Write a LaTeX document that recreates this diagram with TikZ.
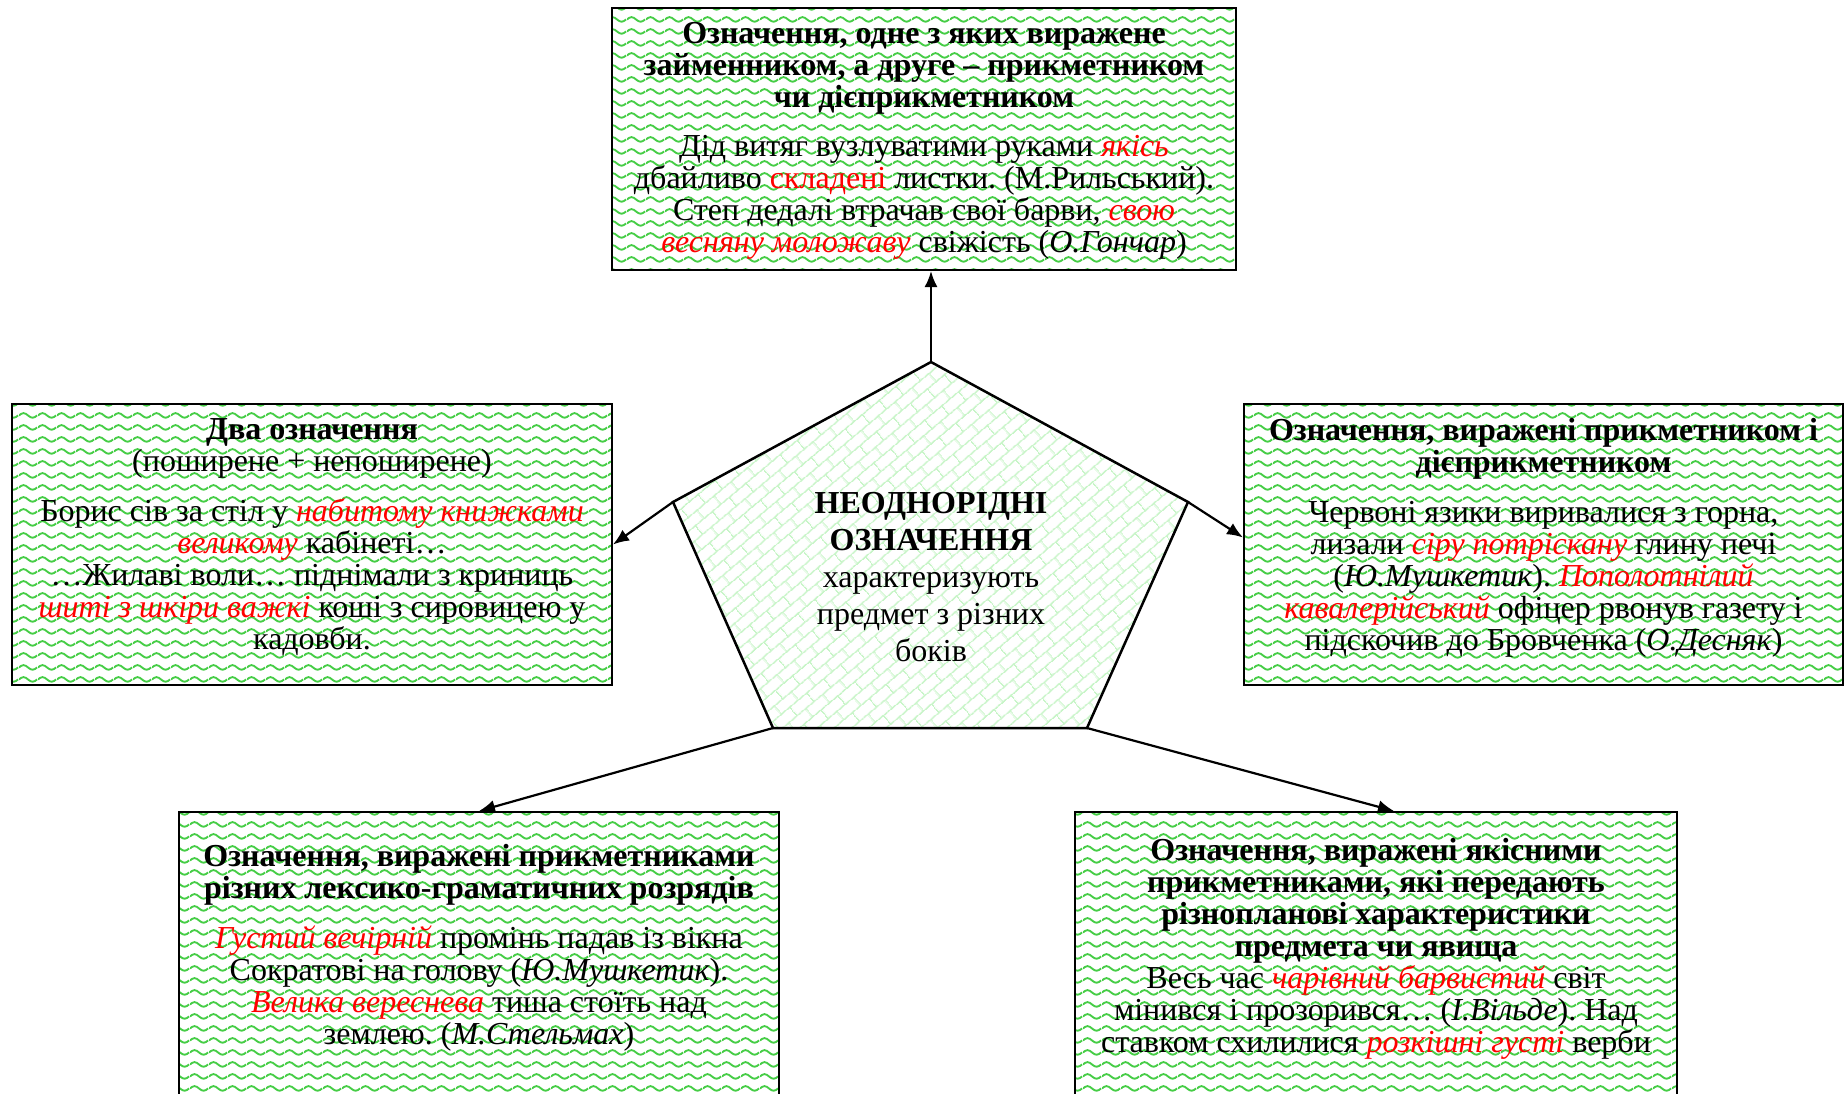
\documentclass[tikz,border=0pt]{standalone}
\usepackage{fontspec}
\setmainfont{Liberation Serif}
\usetikzlibrary{arrows.meta,patterns.meta}
\definecolor{wavegreen}{RGB}{70,205,70}
\definecolor{brickgreen}{RGB}{200,245,200}
\newcommand\redit[1]{\textcolor{red}{\textit{#1}}}
\newcommand\redup[1]{\textcolor{red}{#1}}
\frenchspacing
\tikzdeclarepattern{name=wavy, type=uncolored,
  bottom left={(0pt,0pt)}, top right={(19pt,12pt)}, tile size={(19pt,12pt)},
  code={\draw[line width=2pt] (0pt,6pt) sin (4.75pt,8.5pt) cos (9.5pt,6pt) sin (14.25pt,3.5pt) cos (19pt,6pt);}}
\tikzdeclarepattern{name=bricks, type=uncolored,
  bottom left={(0pt,0pt)}, top right={(22pt,22pt)}, tile size={(22pt,22pt)},
  tile transformation={rotate=40},
  code={\draw[line width=1.4pt] (0pt,5.5pt) -- (22pt,5.5pt) (0pt,16.5pt) -- (22pt,16.5pt)
        (5.5pt,5.5pt) -- (5.5pt,16.5pt) (16.5pt,16.5pt) -- (16.5pt,22pt) (16.5pt,0pt) -- (16.5pt,5.5pt);}}
\begin{document}
\begin{tikzpicture}[x=1pt,y=-1pt,
  box/.style={draw=black, line width=2pt, pattern=wavy, pattern color=wavegreen, inner sep=0pt},
  txt/.style={align=center, anchor=north, inner sep=0pt, font=\fontsize{32}{32}\selectfont},
  ptxt/.style={align=center, anchor=north, inner sep=0pt, font=\fontsize{32}{37}\selectfont},
  arr/.style={line width=2.2pt, -{Latex[length=16pt,width=13pt]}},
  penta/.style={draw=black, line width=2.5pt, pattern=bricks, pattern color=brickgreen, line join=miter}
]
\fill[white] (0,0) rectangle (1845,1093);
\useasboundingbox (0,0) rectangle (1845,1093);

% boxes
\node[box, minimum width=624pt, minimum height=262pt] (top) at (924,139) {};
\node[box, minimum width=600pt, minimum height=281pt] (left) at (312,544.5) {};
\node[box, minimum width=599pt, minimum height=281pt] (right) at (1543.5,544.5) {};
\node[box, minimum width=600pt, minimum height=300pt] (bl) at (479,962) {};
\node[box, minimum width=602pt, minimum height=300pt] (br) at (1376,962) {};

% pentagon
\coordinate (pt) at (931,362);
\coordinate (pr) at (1188,502);
\coordinate (pbr) at (1087,728);
\coordinate (pbl) at (773,728);
\coordinate (pl) at (673,502);
\draw[penta] (pt) -- (pr) -- (pbr) -- (pbl) -- (pl) -- cycle;

% arrows
\draw[arr] (pt) -- (pt |- top.south);
\draw[arr] (pl) -- (left.east);
\draw[arr] (pr) -- ([yshift=7pt]right.west);
\draw[arr] (pbl) -- (bl.north);
\draw[arr] (pbr) -- ([xshift=18pt]br.north);

% texts
\node[txt] (toptxt) at (924,22) {\textbf{Означення, одне з яких виражене}\\
\textbf{займенником, а друге – прикметником}\\
\textbf{чи дієприкметником}\\[17pt]
Дід витяг вузлуватими руками \redit{якісь}\\
дбайливо \redup{складені} листки. (М.Рильський).\\
Степ дедалі втрачав свої барви, \redit{свою}\\
\redit{весняну моложаву} свіжість (\textit{О.Гончар})};

\node[txt] (lefttxt) at (312,418) {\textbf{Два означення}\\
(поширене + непоширене)\\[18pt]
Борис сів за стіл у \redit{набитому книжками}\\
\redit{великому} кабінеті…\\
…Жилаві воли… піднімали з криниць\\
\redit{шиті з шкіри важкі} коші з сировицею у\\
кадовби.};

\node[txt] (righttxt) at (1543.5,418) {\textbf{Означення, виражені прикметником і}\\
\textbf{дієприкметником}\\[18pt]
Червоні язики виривалися з горна,\\
лизали \redit{сіру потріскану} глину печі\\
(\textit{Ю.Мушкетик}). \redit{Пополотнілий}\\
\redit{кавалерійський} офіцер рвонув газету і\\
підскочив до Бровченка (\textit{О.Десняк})};

\node[txt] (bltxt) at (479,844) {\textbf{Означення, виражені прикметниками}\\
\textbf{різних лексико-граматичних розрядів}\\[18pt]
\redit{Густий вечірній} промінь падав із вікна\\
Сократові на голову (\textit{Ю.Мушкетик}).\\
\redit{Велика вереснева} тиша стоїть над\\
землею. (\textit{М.Стельмах})};

\node[txt] (brtxt) at (1376,838) {\textbf{Означення, виражені якісними}\\
\textbf{прикметниками, які передають}\\
\textbf{різнопланові характеристики}\\
\textbf{предмета чи явища}\\
Весь час \redit{чарівний барвистий} світ\\
мінився і прозорився… (\textit{І.Вільде}). Над\\
ставком схилилися \redit{розкішні густі} верби};

\node[ptxt] (ptxt) at (931,492) {\textbf{НЕОДНОРІДНІ}\\
\textbf{ОЗНАЧЕННЯ}\\
характеризують\\
предмет з різних\\
боків};
\end{tikzpicture}
\end{document}
